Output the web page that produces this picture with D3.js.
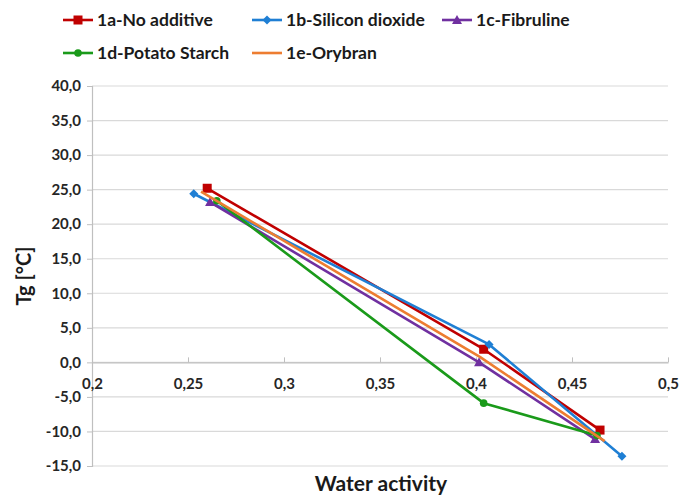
<!DOCTYPE html>
<html><head><meta charset="utf-8">
<script src="https://cdn.jsdelivr.net/npm/d3@7"></script>
<style>body{margin:0;background:#fff}svg{display:block}text{font-family:Lato,"Open Sans",sans-serif;font-weight:bold}</style>
</head><body><svg id="c" width="681" height="499"></svg>
<script>
const seriesNames = ["1a-No additive","1b-Silicon dioxide","1c-Fibruline","1d-Potato Starch","1e-Orybran"];
const seriesColors = ["#c00000","#1f7fd4","#7030a0","#1a9a1a","#ed7d31"];
const seriesMarkers = ["square","diamond","triangle","circle","none"];
const xValues = [
  [0.260,0.404,0.4646],
  [0.253,0.4068,0.476],
  [0.2615,0.4016,0.462],
  [0.265,0.404,0.463],
  [0.2568,0.402,0.467]
];
const yValues = [
  [25.2,1.9,-9.8],
  [24.4,2.6,-13.6],
  [23.2,0.0,-11.1],
  [23.4,-5.9,-10.6],
  [24.7,0.8,-11.4]
];
const xTicks = [0.2,0.25,0.3,0.35,0.4,0.45,0.5];
const yTicks = [40,35,30,25,20,15,10,5,0,-5,-10,-15];

const svg = d3.select("#c");
const L=92,R=668,T=86,B=466;
const x = d3.scaleLinear().domain([0.2,0.5]).range([L,R]);
const y = d3.scaleLinear().domain([-15,40]).range([B,T]);
const fmtY = d => d3.format(".1f")(d).replace(".",",").replace("−","-");
const fmtX = d => String(d).replace(".",",");

svg.append("g").selectAll("line").data(yTicks).join("line")
  .attr("x1",L).attr("x2",R).attr("y1",d=>y(d)).attr("y2",d=>y(d))
  .attr("stroke","#d9d9d9").attr("stroke-width",1.2);

const ya = svg.append("g").attr("transform",`translate(${L},0)`)
  .call(d3.axisLeft(y).tickValues(yTicks).tickFormat(fmtY).tickSize(5).tickPadding(6));
ya.select(".domain").attr("stroke","#bfbfbf").attr("stroke-width",1.2);
ya.selectAll(".tick line").attr("stroke","#bfbfbf");
ya.selectAll("text").attr("font-size",15).attr("fill","#262626").attr("font-family","Lato,sans-serif").attr("font-weight","bold");

const xa = svg.append("g").attr("transform",`translate(0,${y(0)})`)
  .call(d3.axisBottom(x).tickValues(xTicks).tickFormat(fmtX).tickSizeInner(-5).tickSizeOuter(0).tickPadding(16));
xa.select(".domain").attr("stroke","#bfbfbf").attr("stroke-width",1.2);
xa.selectAll(".tick line").attr("stroke","#bfbfbf");
xa.selectAll("text").attr("font-size",15).attr("fill","#262626").attr("font-family","Lato,sans-serif").attr("font-weight","bold");

const line = d3.line().x(d=>x(d[0])).y(d=>y(d[1]));
function marker(g, type, color, cx, cy){
  if(type==="square") g.append("rect").attr("x",cx-4.5).attr("y",cy-4.5).attr("width",9).attr("height",9).attr("fill",color);
  else if(type==="diamond") g.append("path").attr("d",`M${cx},${cy-4.5}L${cx+4.5},${cy}L${cx},${cy+4.5}L${cx-4.5},${cy}Z`).attr("fill",color);
  else if(type==="triangle") g.append("path").attr("d",`M${cx},${cy-5}L${cx+5},${cy+4}L${cx-5},${cy+4}Z`).attr("fill",color);
  else if(type==="circle") g.append("circle").attr("cx",cx).attr("cy",cy).attr("r",3.8).attr("fill",color);
}
seriesNames.forEach((n,i)=>{
  const pts = xValues[i].map((v,j)=>[v,yValues[i][j]]);
  const g = svg.append("g");
  g.append("path").attr("d",line(pts)).attr("fill","none").attr("stroke",seriesColors[i]).attr("stroke-width",2.6).attr("stroke-linejoin","round");
  pts.forEach(p=>marker(g,seriesMarkers[i],seriesColors[i],x(p[0]),y(p[1])));
});

const legPos = [[63,20],[252,20],[442,20],[63,53],[252,53]];
seriesNames.forEach((n,i)=>{
  const [lx,ly]=legPos[i];
  const g=svg.append("g");
  g.append("line").attr("x1",lx).attr("x2",lx+30).attr("y1",ly).attr("y2",ly).attr("stroke",seriesColors[i]).attr("stroke-width",2.6);
  marker(g,seriesMarkers[i],seriesColors[i],lx+15,ly);
  g.append("text").attr("x",lx+34).attr("y",ly).attr("dy","0.35em").attr("font-size",17.5).attr("fill","#1a1a1a").text(n);
});

svg.append("text").attr("x",381).attr("y",491).attr("text-anchor","middle").attr("font-size",21).attr("fill","#1a1a1a").text("Water activity");
svg.append("text").attr("transform","translate(31,276) rotate(-90)").attr("text-anchor","middle").attr("font-size",20).attr("fill","#1a1a1a").text("Tg [°C]");
</script></body></html>
